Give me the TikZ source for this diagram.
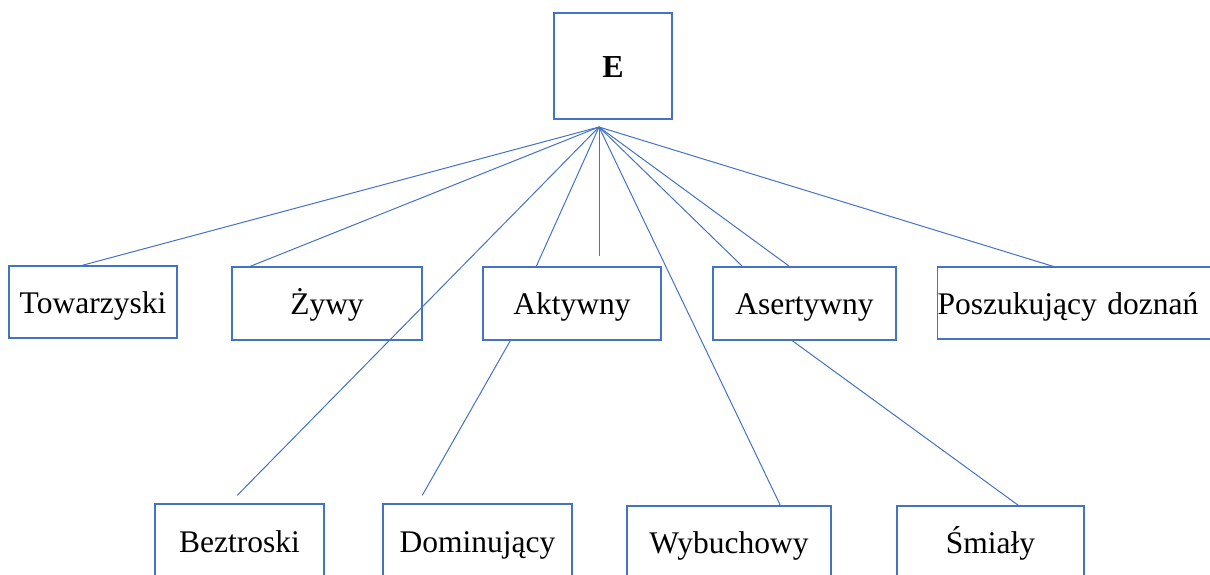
\documentclass[tikz,border=0pt]{standalone}
\usepackage{fontspec}
\setmainfont{Liberation Serif}
\usetikzlibrary{calc}
\definecolor{edgeblue}{RGB}{68,114,196}
\begin{document}
\begin{tikzpicture}[x=1pt,y=-1pt,
  box/.style={draw=edgeblue,line width=1.4pt,rectangle,inner sep=0pt,
    text height=26pt,text depth=4pt,
    font=\fontsize{31.5}{37}\selectfont,text=black},
  link/.style={draw=edgeblue,line width=1pt}]
\useasboundingbox (0,0) rectangle (1210,574);
\clip (0,0) rectangle (1210,574);

% root
\node[box,minimum width=118pt,minimum height=106pt,font=\fontsize{32}{38}\selectfont\bfseries] (e) at (613,66) {E};
\coordinate (hub) at (599,127);

% middle row
\node[box,minimum width=168pt,minimum height=72pt] (tow) at (93,302) {Towarzyski};
\node[box,minimum width=190pt,minimum height=73pt] (zyw) at (327,303.5) {Żywy};
\node[box,minimum width=178pt,minimum height=73pt] (akt) at (572,303.5) {Aktywny};
\node[box,minimum width=183pt,minimum height=73pt] (ase) at (804.5,303.5) {Asertywny};
\node[box,anchor=west,text width=290pt,align=left,minimum height=72pt] (posz) at (937,303) {Poszukujący doznań};

% bottom row
\node[box,minimum width=169pt,minimum height=74pt] (bez) at (239.5,541) {Beztroski};
\node[box,minimum width=189pt,minimum height=74pt] (dom) at (477.5,541) {Dominujący};
\node[box,minimum width=204pt,minimum height=72pt] (wyb) at (729,542) {Wybuchowy};
\node[box,minimum width=187pt,minimum height=72pt] (smi) at (990.5,542) {Śmiały};

\coordinate (vend) at (599,256);

% connectors from the root
\draw[link] (hub) -- ($(tow.north west)+(74,0)$);
\draw[link] (hub) -- ($(zyw.north west)+(19,0)$);
\draw[link] (hub) -- ($(bez.north west)+(83,-8)$);
\draw[link] (hub) -- ($(akt.north west)+(54,0)$);
\draw[link] (hub) -- (vend);
\draw[link] (hub) -- ($(wyb.north west)+(154,0)$);
\draw[link] (hub) -- ($(ase.north west)+(30,0)$);
\draw[link] (hub) -- ($(ase.north west)+(77,0)$);
\draw[link] (hub) -- ($(posz.north west)+(116,0)$);

% second-level connectors
\draw[link] ($(akt.south west)+(28,0)$) -- ($(dom.north west)+(40,-8)$);
\draw[link] ($(ase.south west)+(80,0)$) -- ($(smi.north west)+(122,0)$);
\end{tikzpicture}
\end{document}
